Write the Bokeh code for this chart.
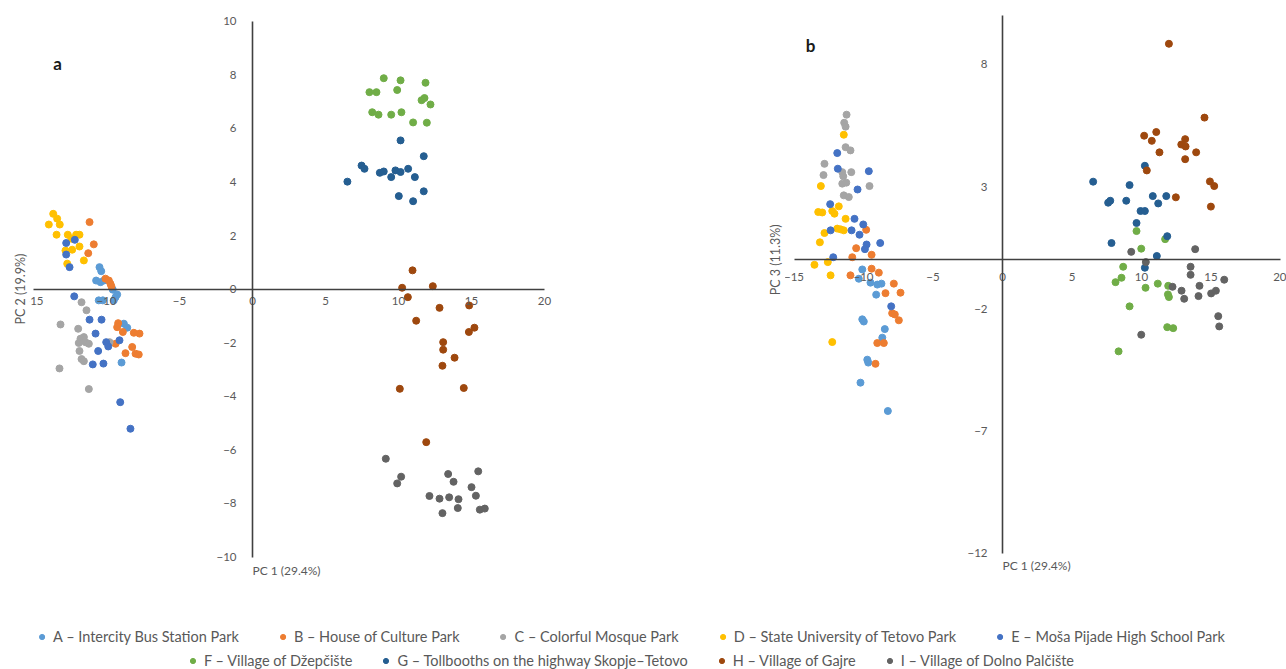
import math
from bokeh.plotting import figure
from bokeh.layouts import column, row
from bokeh.models import Range1d, FixedTicker, Label, Legend, LegendItem
from bokeh.embed import file_html
from bokeh.resources import INLINE

# ---------------- data ----------------
names = ["A \u2013 Intercity Bus Station Park", "B \u2013 House of Culture Park",
         "C \u2013 Colorful Mosque Park", "D \u2013 State University of Tetovo Park",
         "E \u2013 Mo\u0161a Pijade High School Park", "F \u2013 Village of D\u017eep\u010di\u0161te",
         "G \u2013 Tollbooths on the highway Skopje\u2013Tetovo", "H \u2013 Village of Gajre",
         "I \u2013 Village of Dolno Pal\u010di\u0161te"]
colors = ["#5B9BD5", "#ED7D31", "#A5A5A5", "#FFC000", "#4472C4",
          "#70AD47", "#255E91", "#9E480E", "#636363"]

# Panel a: PC1 vs PC2
a_A_x = [-10.48, -10.36, -10.71, -10.41, -10.18, -9.57, -9.38, -9.27, -10.53, -10.25, -9.5, -8.81, -8.58, -8.97]
a_A_y = [0.82, 0.67, 0.32, 0.26, 0.32, -0.02, -0.30, -0.2, -0.42, -0.42, -0.42, -1.29, -1.44, -2.74]
a_B_x = [-11.16, -10.87, -11.25, -10.07, -9.84, -9.73, -9.66, -9.2, -9.27, -8.88, -9.38, -8.13, -7.74, -8.24, -8.7, -8.01, -7.79]
a_B_y = [2.5, 1.67, 1.34, 0.39, 0.32, 0.2, 0.1, -1.27, -1.42, -1.6, -2.04, -1.63, -1.66, -2.16, -2.39, -2.41, -2.44]
a_C_x = [-11.71, -11.37, -13.15, -11.94, -11.78, -11.55, -11.44, -11.21, -11.9, -11.85, -11.71, -11.55, -13.22, -11.21, -9.79]
a_C_y = [-0.49, -0.79, -1.32, -1.48, -1.85, -1.79, -1.98, -2.04, -2.01, -2.31, -2.61, -2.69, -2.96, -3.73, -1.98]
a_D_x = [-13.65, -13.38, -13.2, -13.95, -13.42, -12.65, -12.08, -11.85, -12.4, -11.85, -12.35, -12.81, -11.55, -12.69]
a_D_y = [2.81, 2.63, 2.41, 2.41, 2.03, 2.03, 2.03, 2.03, 1.88, 1.59, 1.47, 1.44, 1.07, 0.95]
a_E_x = [-12.76, -12.17, -12.76, -12.53, -12.21, -11.16, -10.34, -10.75, -10.02, -9.88, -9.11, -10.57, -10.94, -10.21, -9.06, -8.36]
a_E_y = [1.72, 1.84, 1.29, 0.82, -0.27, -1.14, -1.14, -1.66, -1.98, -2.14, -1.91, -2.31, -2.81, -2.78, -4.22, -5.21]
a_F_x = [8.99, 10.14, 11.85, 8.01, 8.49, 9.91, 11.58, 11.78, 12.19, 8.2, 8.63, 9.5, 10.2, 11.0, 11.94]
a_F_y = [7.87, 7.79, 7.70, 7.35, 7.35, 7.43, 7.05, 7.13, 6.89, 6.6, 6.51, 6.51, 6.6, 6.22, 6.21]
a_G_x = [10.14, 11.73, 7.47, 7.67, 8.72, 8.99, 9.79, 10.14, 9.5, 10.66, 11.12, 10.02, 11.0, 11.73, 6.5]
a_G_y = [5.55, 4.96, 4.61, 4.49, 4.34, 4.39, 4.43, 4.37, 4.18, 4.49, 4.18, 3.47, 3.28, 3.65, 4.01]
a_H_x = [10.96, 10.25, 12.35, 10.64, 12.81, 14.84, 11.21, 15.2, 14.82, 13.06, 13.06, 13.84, 13.01, 10.09, 14.47, 11.9]
a_H_y = [0.70, 0.05, 0.11, -0.30, -0.70, -0.61, -1.18, -1.44, -1.6, -1.98, -2.26, -2.56, -2.86, -3.72, -3.69, -5.71]
a_I_x = [9.13, 10.18, 9.91, 13.4, 15.46, 13.77, 15.0, 12.12, 12.81, 13.47, 14.11, 15.3, 14.06, 13.01, 15.57, 15.91]
a_I_y = [-6.33, -7.0, -7.25, -6.9, -6.8, -7.19, -7.39, -7.72, -7.82, -7.77, -7.84, -7.71, -8.17, -8.36, -8.23, -8.19]

# Panel b: PC1 vs PC3
b_A_x = [-10.09, -10.34, -9.5, -9.01, -8.71, -9.09, -10.09, -9.98, -8.47, -8.65, -9.73, -9.66, -10.22, -8.25]
b_A_y = [-0.39, -0.77, -0.93, -1.01, -0.97, -1.42, -2.43, -2.52, -2.83, -3.18, -4.08, -4.2, -5.02, -6.18]
b_B_x = [-9.81, -10.53, -10.81, -9.42, -10.94, -9.42, -8.9, -7.82, -8.42, -7.34, -7.94, -7.75, -7.46, -9.01, -8.54, -9.14]
b_B_y = [1.23, 0.48, 0.11, 0.21, -0.63, -0.36, -0.52, -0.97, -1.36, -1.34, -2.18, -2.23, -2.47, -3.4, -3.4, -4.25]
b_C_x = [-11.22, -11.39, -11.29, -11.29, -10.94, -12.81, -12.88, -11.53, -10.88, -11.46, -11.53, -11.24, -9.57, -11.42, -11.06]
b_C_y = [5.94, 5.61, 5.45, 4.61, 4.48, 3.93, 3.47, 3.59, 3.59, 3.42, 3.12, 3.16, 3.02, 2.64, 2.57]
b_D_x = [-11.42, -13.07, -13.26, -12.97, -12.25, -12.09, -11.78, -11.29, -11.89, -11.65, -11.42, -12.81, -13.14, -13.53, -12.57, -12.37, -12.25]
b_D_y = [5.12, 3.02, 1.96, 1.94, 2.0, 1.89, 2.19, 1.68, 1.28, 1.25, 1.21, 1.1, 0.72, -0.2, -0.09, -0.63, -3.36]
b_E_x = [-11.89, -11.85, -9.62, -10.43, -12.4, -10.65, -10.02, -12.37, -10.86, -10.29, -9.78, -9.9, -8.8, -12.18, -8.01]
b_E_y = [4.37, 3.73, 3.63, 2.88, 2.28, 1.68, 1.45, 1.21, 1.21, 1.03, 0.63, 0.44, 0.69, 0.11, -1.9]
b_F_x = [9.64, 11.7, 9.98, 8.68, 8.56, 8.13, 10.29, 11.17, 11.92, 11.9, 11.97, 9.14, 11.85, 12.28, 8.35]
b_F_y = [1.18, 0.85, 0.46, -0.28, -0.73, -0.91, -1.14, -0.97, -1.06, -1.41, -1.52, -1.9, -2.75, -2.79, -3.74]
b_G_x = [6.52, 9.14, 10.24, 7.6, 7.75, 8.9, 10.81, 11.78, 11.2, 9.93, 10.24, 9.64, 7.84, 11.85, 11.1, 10.24]
b_G_y = [3.2, 3.06, 3.85, 2.34, 2.42, 2.42, 2.61, 2.61, 2.31, 2.0, 2.0, 1.51, 0.69, 0.97, 0.16, -0.32]
b_H_x = [11.97, 14.53, 10.19, 11.06, 10.74, 13.14, 12.86, 13.17, 11.29, 13.93, 13.14, 10.38, 14.92, 15.23, 12.47, 14.99]
b_H_y = [8.84, 5.82, 5.08, 5.23, 4.87, 4.94, 4.72, 4.64, 4.4, 4.4, 4.12, 3.66, 3.21, 3.02, 2.56, 2.18]
b_I_x = [9.26, 13.86, 10.31, 13.53, 13.53, 12.23, 12.88, 13.07, 14.17, 14.1, 15.01, 15.35, 15.95, 15.52, 15.59, 9.98]
b_I_y = [0.33, 0.44, -0.09, -0.28, -0.61, -1.1, -1.26, -1.59, -1.06, -1.48, -1.37, -1.26, -0.81, -2.3, -2.72, -3.06]

x_ticks = [-15, -10, -5, 0, 5, 10, 15, 20]
a_y_ticks = [-10, -8, -6, -4, -2, 0, 2, 4, 6, 8, 10]
b_y_ticks = [-12, -7, -2, 3, 8]

a_series = [(a_A_x, a_A_y), (a_B_x, a_B_y), (a_C_x, a_C_y), (a_D_x, a_D_y), (a_E_x, a_E_y),
            (a_F_x, a_F_y), (a_G_x, a_G_y), (a_H_x, a_H_y), (a_I_x, a_I_y)]
b_series = [(b_A_x, b_A_y), (b_B_x, b_B_y), (b_C_x, b_C_y), (b_D_x, b_D_y), (b_E_x, b_E_y),
            (b_F_x, b_F_y), (b_G_x, b_G_y), (b_H_x, b_H_y), (b_I_x, b_I_y)]

FONT = "Lato"
TXT = "#595959"
AXC = "#404040"


def make_panel(series, xr, yr, xbounds, ybounds, yticks, xlab_standoff, ylab_standoff):
    p = figure(width=643, height=600, x_range=Range1d(*xr), y_range=Range1d(*yr),
               output_backend="svg", toolbar_location=None, min_border=0)
    p.grid.visible = False
    p.outline_line_color = None
    for (xs, ys), c in zip(series, colors):
        p.scatter(xs, ys, size=7, fill_color=c, line_color=c)
    p.xaxis.fixed_location = 0
    p.yaxis.fixed_location = 0
    p.xaxis.bounds = xbounds
    p.yaxis.bounds = ybounds
    p.xaxis.ticker = FixedTicker(ticks=x_ticks)
    p.yaxis.ticker = FixedTicker(ticks=yticks)
    p.xaxis.major_label_standoff = xlab_standoff
    p.yaxis.major_label_standoff = ylab_standoff
    for ax in (p.xaxis, p.yaxis):
        ax.axis_line_color = AXC
        ax.axis_line_width = 1.6
        ax.major_tick_line_color = None
        ax.minor_tick_line_color = None
        ax.major_label_text_font = FONT
        ax.major_label_text_font_size = "11.5px"
        ax.major_label_text_color = TXT
    return p


# ranges chosen so that the frame fills each half of the page
pa = make_panel(a_series, (-17.26, 26.78), (-11.62, 10.77), (-15, 20), (-10, 10), a_y_ticks, 2, 10)
pb = make_panel(b_series, (-25.83, 20.43), (-13.93, 10.61), (-15, 20), (-12, 10), b_y_ticks, 7, 9)

# titles / panel letters (positions in data units)
pa.add_layout(Label(x=-13.36, y=8.42, text="a", text_font=FONT, text_font_style="bold",
                    text_font_size="17px", text_color="#1a1a1a", text_align="center", text_baseline="middle"))
pb.add_layout(Label(x=-13.81, y=8.77, text="b", text_font=FONT, text_font_style="bold",
                    text_font_size="17px", text_color="#1a1a1a", text_align="center", text_baseline="middle"))
pa.add_layout(Label(x=0.0, y=-10.5, text="PC 1 (29.4%)", text_font=FONT, text_font_size="12px",
                    text_color=TXT, text_align="left", text_baseline="middle"))
pb.add_layout(Label(x=0.0, y=-12.49, text="PC 1 (29.4%)", text_font=FONT, text_font_size="12px",
                    text_color=TXT, text_align="left", text_baseline="middle"))
pa.add_layout(Label(x=-15.9, y=0.0, text="PC 2 (19.9%)", text_font=FONT, text_font_size="12.5px",
                    text_color=TXT, text_align="center", text_baseline="middle", angle=math.pi / 2,
                    background_fill_color="white", padding=2))
pb.add_layout(Label(x=-16.33, y=0.0, text="PC 3 (11.3%)", text_font=FONT, text_font_size="12.5px",
                    text_color=TXT, text_align="center", text_baseline="middle", angle=math.pi / 2,
                    background_fill_color="white", padding=2))

# legend figure (frame right border keeps the legend centred like the original)
pl = figure(width=1286, height=69, x_range=Range1d(0, 1), y_range=Range1d(0, 1),
            output_backend="svg", toolbar_location=None, min_border=0, min_border_right=26)
pl.axis.visible = False
pl.grid.visible = False
pl.outline_line_color = None
items = []
for n, c in zip(names, colors):
    r = pl.scatter(x=[float("nan")], y=[float("nan")], size=7, fill_color=c, line_color=c)
    items.append(LegendItem(label=n, renderers=[r]))


def make_legend(its, margin, spacing):
    return Legend(items=its, orientation="horizontal", location="top_center", margin=margin,
                  padding=0, spacing=spacing, glyph_width=13, glyph_height=13, label_standoff=5,
                  label_text_font=FONT, label_text_font_size="14.5px", label_text_color=TXT,
                  border_line_color=None, background_fill_alpha=0)


pl.add_layout(make_legend(items[:5], 28, 37))
pl.add_layout(make_legend(items[5:], 52, 27))

layout = column(row(pa, pb), pl)
open("out.html", "w").write(file_html(layout, INLINE))
